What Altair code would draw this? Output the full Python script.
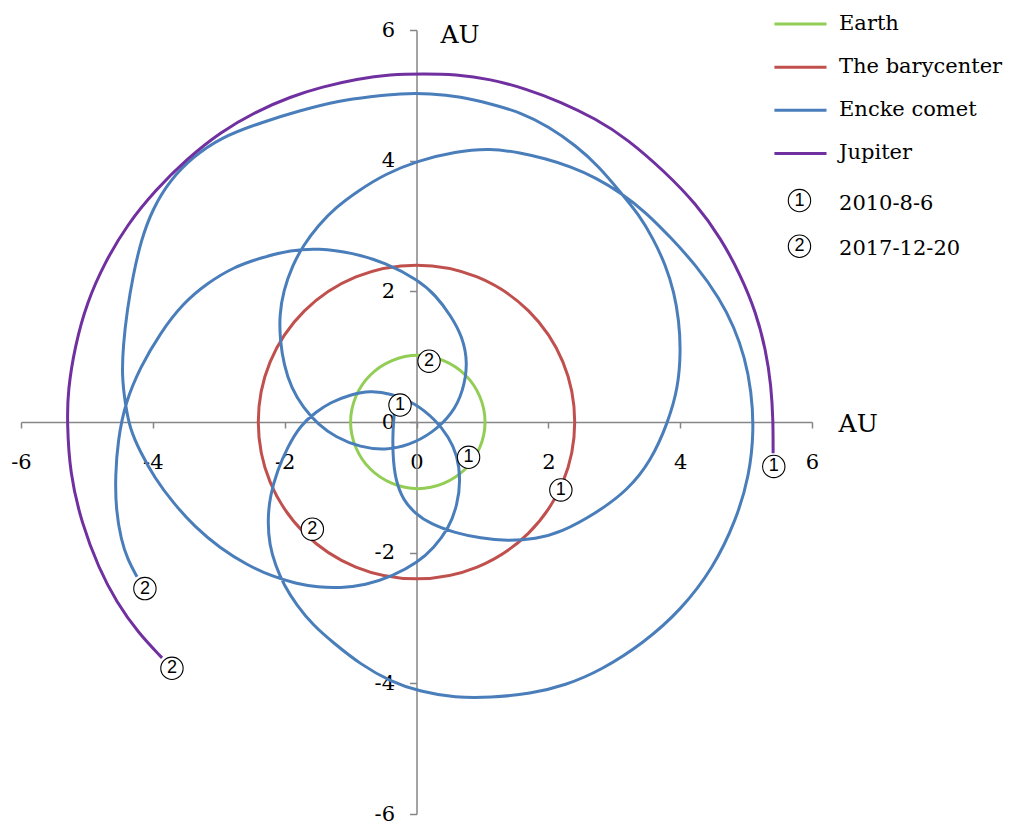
import altair as alt
import pandas as pd

AXIS_GREY = "#868686"
SERIF = "DejaVu Serif"

series_names = ["Earth", "The barycenter", "Encke comet", "Jupiter"]
series_colors = ["#92CD55", "#C0504D", "#4A7EBB", "#7030A0"]
legend_labels = ["Earth", "The barycenter", "\u00a0Encke comet", "\u00a0Jupiter"]
date_labels = ["2010-8-6", "2017-12-20"]
tick_values = [-6, -4, -2, 0, 2, 4, 6]

# Earth orbit (AU)
earth_x = [1.04, 0.96, 0.74, 0.41, 0.02, -0.37, -0.70, -0.92,
           -1.00, -0.92, -0.70, -0.37, 0.02, 0.41, 0.74, 0.96]
earth_y = [0.00, 0.39, 0.72, 0.94, 1.02, 0.94, 0.72, 0.39,
           0.00, -0.39, -0.72, -0.94, -1.02, -0.94, -0.72, -0.39]

# Barycenter track (AU)
bary_x = [2.40, 2.22, 1.70, 0.92, 0.00, -0.92, -1.70, -2.22,
          -2.40, -2.22, -1.70, -0.92, 0.00, 0.92, 1.70, 2.22]
bary_y = [0.00, 0.92, 1.70, 2.22, 2.40, 2.22, 1.70, 0.92,
          0.00, -0.92, -1.70, -2.22, -2.40, -2.22, -1.70, -0.92]

# Encke comet, 2010-8-6 .. 2017-12-20 (AU)
encke_x = [
    -0.33, -0.36, -0.36, -0.32, -0.20, -0.02, 0.21, 0.59, 0.97, 1.38,
    1.81, 2.19, 2.72, 3.21, 3.56, 3.81, 3.97, 4.01, 3.98, 3.91,
    3.78, 3.59, 3.37, 3.10, 2.77, 2.42, 2.01, 1.58, 1.12, 0.67,
    0.21, -0.24, -0.70, -1.16, -1.76, -2.37, -2.98, -3.40, -3.74, -4.00,
    -4.18, -4.30, -4.39, -4.45, -4.47, -4.42, -4.35, -4.19, -3.97, -3.69,
    -3.36, -2.98, -2.57, -2.17, -1.84, -1.49, -1.16, -0.78, -0.36, 0.02,
    0.26, 0.49, 0.62, 0.67, 0.62, 0.49, 0.29, -0.02, -0.40, -0.70,
    -1.00, -1.31, -1.53, -1.76, -1.96, -2.11, -2.22, -2.26, -2.23, -2.14,
    -2.01, -1.82, -1.57, -1.26, -0.85, -0.40, 0.06, 0.59, 1.12, 1.73,
    2.26, 2.80, 3.45, 4.01, 4.50, 4.85, 5.05, 5.12, 5.08, 4.98,
    4.82, 4.60, 4.24, 3.86, 3.48, 3.10, 2.72, 2.34, 1.96, 1.58,
    1.12, 0.59, 0.02, -0.47, -0.90, -1.23, -1.49, -1.72, -1.88, -2.02,
    -2.08, -2.07, -2.01, -1.90, -1.72, -1.49, -1.23, -0.85, -0.47, -0.12,
    0.24, 0.55, 0.71, 0.78, 0.70, 0.52, 0.29, 0.03, -0.47, -0.97,
    -1.49, -1.91, -2.34, -2.78, -3.18, -3.54, -3.89, -4.19, -4.42, -4.53,
    -4.57, -4.56, -4.48, -4.38, -4.24,
]
encke_y = [
    0.21, -0.13, -0.51, -0.89, -1.20, -1.40, -1.56, -1.70, -1.78, -1.82,
    -1.79, -1.69, -1.40, -1.04, -0.59, -0.02, 0.52, 1.10, 1.56, 1.98,
    2.40, 2.81, 3.18, 3.51, 3.91, 4.23, 4.52, 4.74, 4.87, 4.98,
    5.03, 5.03, 4.98, 4.92, 4.77, 4.58, 4.35, 4.05, 3.70, 3.27,
    2.78, 2.24, 1.71, 1.17, 0.71, 0.29, -0.10, -0.46, -0.86, -1.24,
    -1.61, -1.93, -2.19, -2.37, -2.47, -2.53, -2.54, -2.50, -2.36, -2.15,
    -1.93, -1.63, -1.27, -0.89, -0.51, -0.23, 0.03, 0.29, 0.44, 0.48,
    0.42, 0.30, 0.15, -0.05, -0.39, -0.74, -1.12, -1.50, -1.89, -2.19,
    -2.50, -2.80, -3.11, -3.38, -3.71, -3.97, -4.13, -4.22, -4.22, -4.16,
    -4.03, -3.80, -3.38, -2.88, -2.24, -1.50, -0.82, -0.13, 0.48, 0.99,
    1.45, 1.89, 2.40, 2.82, 3.21, 3.51, 3.74, 3.91, 4.03, 4.12,
    4.19, 4.14, 4.00, 3.80, 3.53, 3.28, 3.01, 2.70, 2.40, 2.01,
    1.63, 1.25, 0.87, 0.52, 0.22, -0.04, -0.23, -0.39, -0.43, -0.36,
    -0.17, 0.13, 0.48, 0.90, 1.30, 1.63, 1.94, 2.17, 2.44, 2.59,
    2.66, 2.63, 2.52, 2.37, 2.12, 1.82, 1.36, 0.84, 0.29, -0.28,
    -0.82, -1.35, -1.81, -2.11, -2.37,
]

# Jupiter, 2010-8-6 .. 2017-12-20 (AU)
jupiter_x = [
    5.41, 5.41, 5.38, 5.30, 5.15, 4.92, 4.62, 4.24, 3.78, 3.19,
    2.72, 2.19, 1.66, 1.12, 0.59, 0.11, -0.40, -0.90, -1.43, -1.91,
    -2.44, -2.97, -3.48, -3.96, -4.39, -4.73, -5.00, -5.18, -5.29, -5.30,
    -5.26, -5.08, -4.82, -4.55, -4.22, -3.86,
]
jupiter_y = [
    -0.48, 0.03, 0.56, 1.10, 1.68, 2.24, 2.81, 3.34, 3.82, 4.34,
    4.64, 4.90, 5.10, 5.25, 5.32, 5.33, 5.32, 5.25, 5.13, 4.98,
    4.75, 4.44, 4.03, 3.55, 3.02, 2.44, 1.83, 1.17, 0.48, 0.00,
    -0.78, -1.55, -2.24, -2.76, -3.23, -3.61,
]

# Positions on the tracks at 2010-8-6 (1) and 2017-12-20 (2)
marker_x = [0.79, 0.19, 2.19, -1.58, -0.25, -4.12, 5.42, -3.71]
marker_y = [-0.54, 0.93, -1.04, -1.64, 0.26, -2.55, -0.68, -3.77]
marker_num = ["1", "2", "1", "2", "1", "2", "1", "2"]

# Legend placement, in axis units
LEG_LINE_X0, LEG_LINE_X1, LEG_TEXT_X = 5.43, 6.22, 6.41
LEG_ROWS_Y = [6.09, 5.43, 4.77, 4.11]
LEG_TEXT_DROP = 0.084
LEG_DATE_MARK_X = 5.81
LEG_DATE_MARK_Y = [3.39, 2.69]
LEG_DATE_TEXT_Y = [3.245, 2.556]

PLOT_W, PLOT_H = 791, 784
LINE_W = 3.0


def track(name, xs, ys):
    return pd.DataFrame({"series": name, "i": list(range(len(xs))), "x": xs, "y": ys})


closed_df = pd.concat(
    [track("Earth", earth_x, earth_y), track("The barycenter", bary_x, bary_y)],
    ignore_index=True,
)
open_df = pd.concat(
    [track("Encke comet", encke_x, encke_y), track("Jupiter", jupiter_x, jupiter_y)],
    ignore_index=True,
)

x_scale = alt.Scale(domain=[-6, 6], nice=False, zero=False)
y_scale = alt.Scale(domain=[-6, 6], nice=False, zero=False)

common_axis = dict(
    values=tick_values,
    title=None,
    grid=False,
    domainColor=AXIS_GREY,
    domainWidth=1.5,
    tickColor=AXIS_GREY,
    tickWidth=1.5,
    labelFont=SERIF,
    labelFontSize=21,
    labelColor="black",
    labelExpr="datum.value + ''",
    labelFlush=False,
    labelOverlap=False,
)
x_axis = alt.Axis(orient="bottom", offset=-PLOT_H / 2, tickSize=6, labelPadding=23, **common_axis)
y_axis = alt.Axis(orient="left", offset=-PLOT_W / 2, tickSize=7, labelPadding=15, **common_axis)

X = alt.X("x:Q", scale=x_scale, axis=x_axis)
Y = alt.Y("y:Q", scale=y_scale, axis=y_axis)
COLOR = alt.Color(
    "series:N",
    scale=alt.Scale(domain=series_names, range=series_colors),
    legend=None,
)

circles = alt.Chart(closed_df).mark_line(
    interpolate="cardinal-closed", strokeWidth=LINE_W
).encode(x=X, y=Y, color=COLOR, detail="series:N", order="i:Q")

paths = alt.Chart(open_df).mark_line(
    interpolate="basis", strokeWidth=LINE_W
).encode(x=X, y=Y, color=COLOR, detail="series:N", order="i:Q")

# Date markers on the tracks and in the legend
marks_df = pd.DataFrame({
    "x": marker_x + [LEG_DATE_MARK_X, LEG_DATE_MARK_X],
    "y": marker_y + LEG_DATE_MARK_Y,
    "num": marker_num + ["1", "2"],
})
rings = alt.Chart(marks_df).mark_circle(
    size=500, color="white", opacity=1, stroke="black", strokeWidth=1.1
).encode(x=X, y=Y)
digits = alt.Chart(marks_df).mark_text(
    font="Liberation Sans", fontSize=18, align="center", baseline="middle", color="black"
).encode(x=X, y=Y, text="num:N")

# Legend swatches and labels
legend_df = pd.DataFrame({
    "series": series_names,
    "label": legend_labels,
    "x": [LEG_LINE_X0] * 4,
    "x_end": [LEG_LINE_X1] * 4,
    "y": LEG_ROWS_Y,
})
legend_lines = alt.Chart(legend_df).mark_rule(strokeWidth=3).encode(
    x=X, x2="x_end:Q", y=Y, color=COLOR
)
legend_text_df = pd.DataFrame({
    "x": [LEG_TEXT_X] * 6,
    "y": [v - LEG_TEXT_DROP for v in LEG_ROWS_Y] + LEG_DATE_TEXT_Y,
    "label": legend_labels + date_labels,
})
legend_text = alt.Chart(legend_text_df).mark_text(
    font=SERIF, fontSize=21, align="left", baseline="alphabetic", color="black"
).encode(x=X, y=Y, text="label:N")

# Axis unit captions
unit_df = pd.DataFrame({"x": [0.66, 6.70], "y": [5.92, -0.03], "label": ["AU", "AU"]})
units = alt.Chart(unit_df).mark_text(
    font=SERIF, fontSize=25, align="center", baseline="middle", color="black"
).encode(x=X, y=Y, text="label:N")

chart = alt.layer(
    circles, paths, rings, digits, legend_lines, legend_text, units
).properties(
    width=PLOT_W,
    height=PLOT_H,
    autosize=alt.AutoSizeParams(type="none"),
    padding={"left": 21, "top": 30, "right": 201, "bottom": 11},
    background="white",
).configure_view(stroke=None)

chart.save("out.html", embed_options={"renderer": "svg", "actions": False})
